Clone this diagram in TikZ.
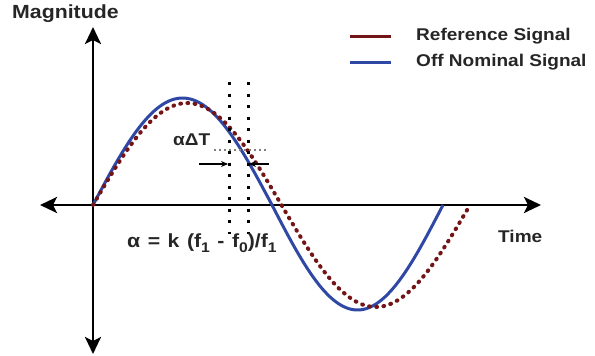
\documentclass[tikz,border=0pt]{standalone}
\usepackage{fontspec}
\newfontfamily\lab[FakeStretch=1.12]{Liberation Sans}
\usetikzlibrary{arrows.meta}
\definecolor{refred}{RGB}{115,20,22}
\definecolor{offblue}{RGB}{48,72,165}
\tikzset{
  axisline/.style={line width=2.8pt, {Stealth[length=17pt,width=16pt,inset=4pt]}-{Stealth[length=17pt,width=16pt,inset=4pt]}},
  bluesig/.style={offblue, line width=3pt},
  redsig/.style={refred, line width=4pt, line cap=round, dash pattern=on 0.8pt off 6.4pt},
  vdots/.style={black, line width=3pt, dash pattern=on 3pt off 8.5pt},
  hdots/.style={gray, line width=1.6pt, dash pattern=on 1.6pt off 3.4pt},
  smallarrow/.style={line width=1.1pt, -{Stealth[length=7pt,width=6pt]}},
  lbl/.style={font=\lab\bfseries\fontsize{17}{20}\selectfont, text=black!85, inner sep=0pt},
}
\newcommand{\sbs}[1]{\raisebox{-0.45ex}{\fontsize{14}{15}\selectfont #1}}
\begin{document}
\begin{tikzpicture}[x=1pt,y=-1pt]
\useasboundingbox[fill=white] (0,0) rectangle (595,356);
% axes
\coordinate (O) at (93,205);
\coordinate (L) at (40,205);
\coordinate (R) at (541,205);
\coordinate (T) at (93,27);
\coordinate (B) at (93,354);
\draw[axisline] (L) -- (R);
\draw[axisline] (B) -- (T);
% signals
\draw[bluesig] plot[domain=0:180, samples=60, smooth] ({93+\x/180*179},{205-107*sin(\x)})
  -- plot[domain=180:360, samples=60, smooth] ({272+(\x-180)/180*171},{205-105*sin(\x)});
\draw[redsig] plot[domain=0:360, samples=120, smooth] ({93+\x/180*188.5},{205-102*sin(\x)});
% dotted markers
\coordinate (v1t) at (229,82);
\coordinate (v1b) at (229,234);
\coordinate (v2t) at (248,82);
\coordinate (v2b) at (248,234);
\draw[vdots] (v1t) -- (v1b);
\draw[vdots] (v2t) -- (v2b);
\coordinate (h1) at (214,150);
\coordinate (h2) at (268,150);
\draw[hdots] (h1) -- (h2);
\coordinate (a1s) at (199,164);
\coordinate (a1e) at (228,164);
\coordinate (a2s) at (269,164);
\coordinate (a2e) at (249,164);
\draw[smallarrow] (a1s) -- (a1e);
\draw[smallarrow] (a2s) -- (a2e);
% labels
\node[lbl, anchor=west] (dT) at (173,140) {αΔT};
\node[lbl, anchor=west, font=\lab\bfseries\fontsize{19}{22}\selectfont] (formula) at (127,243)
  {α\hspace{7.5pt}=\hspace{7.5pt}k\hspace{7.5pt}(f\sbs{1}\hspace{7.5pt}-\hspace{7.5pt}f\sbs{0})/f\sbs{1}};
\node[lbl, anchor=west] (time) at (498,236) {Time};
\node[lbl, anchor=west, font=\lab\bfseries\fontsize{19}{22}\selectfont] (mag) at (12,14) {Magnitude};
% legend
\coordinate (lr1) at (350,36);
\coordinate (lr2) at (391,36);
\coordinate (lb1) at (350,62);
\coordinate (lb2) at (391,62);
\draw[refred, line width=3pt] (lr1) -- (lr2);
\draw[offblue, line width=3pt] (lb1) -- (lb2);
\node[lbl, anchor=west] (legref) at (416,36) {Reference Signal};
\node[lbl, anchor=west] (legoff) at (416,62) {Off Nominal Signal};
\end{tikzpicture}
\end{document}
